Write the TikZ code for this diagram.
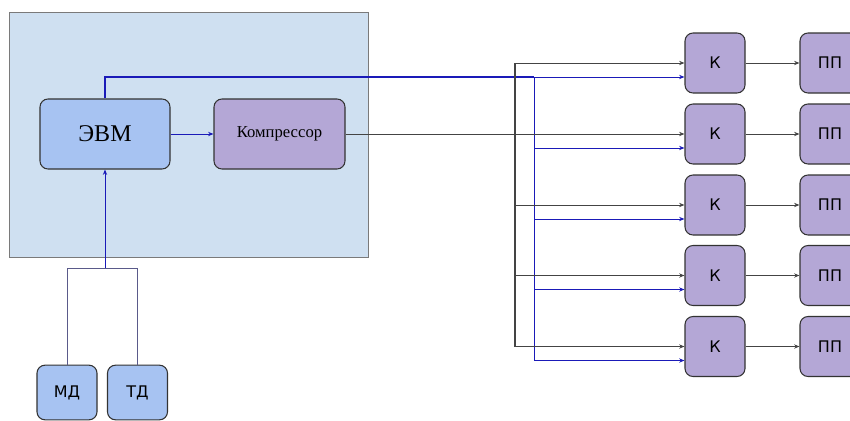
\documentclass[tikz,border=0pt]{standalone}
\usepackage{fontspec}
\setmainfont{Liberation Serif}
\setsansfont{DejaVu Sans}
\usetikzlibrary{calc,arrows.meta}
\definecolor{bgblue}{HTML}{CFE0F1}
\definecolor{evmblue}{HTML}{A7C3F2}
\definecolor{lilac}{HTML}{B4A7D6}
\definecolor{lineblue}{HTML}{1A1AB8}
\definecolor{linegray}{HTML}{444444}
\definecolor{sensline}{HTML}{5A5A8A}
\definecolor{frameline}{HTML}{7A7A7A}
\begin{document}
\begin{tikzpicture}[x=0.75pt,y=-0.75pt,
  box/.style={rounded corners=6pt, draw=black!80, line width=0.8pt, inner sep=0pt},
  evmbox/.style={box, fill=evmblue, minimum width=97.5pt, minimum height=52.5pt, font=\fontsize{18}{20}\selectfont},
  compbox/.style={box, fill=lilac, minimum width=98.25pt, minimum height=52.5pt, font=\fontsize{12.5}{14}\selectfont},
  kbox/.style={box, fill=lilac, minimum width=45pt, minimum height=45pt, font=\sffamily\fontsize{12}{14}\selectfont},
  sensbox/.style={box, fill=evmblue, minimum width=45pt, minimum height=41pt, font=\sffamily\fontsize{12}{14}\selectfont},
  tip/.style={-{Stealth[length=4pt,width=3.2pt]}},
  bluearr/.style={tip, draw=lineblue, fill=lineblue, line width=0.6pt},
  grayarr/.style={tip, draw=linegray, fill=linegray, line width=0.6pt},
  grayline/.style={draw=linegray, line width=0.8pt},
  blueline/.style={draw=lineblue, line width=0.6pt},
  bluethick/.style={draw=lineblue, line width=1.7pt},
  sline/.style={draw=sensline, line width=0.7pt}
]
\useasboundingbox (0,0) rectangle (850,421);
% container
\draw[draw=frameline, fill=bgblue, line width=0.6pt] (9,12) rectangle (368,257);

% nodes
\node[evmbox] (evm) at (105,134) {ЭВМ};
\node[compbox] (comp) at (279.5,134) {Компрессор};
\foreach \i/\y in {1/63,2/134,3/205,4/275.5,5/346.5}{
  \node[kbox] (k\i) at (715,\y) {К};
  \node[kbox] (p\i) at (830,\y) {ПП};
  \coordinate (kb\i) at ($(k\i.west)+(0,14)$);
}
\node[sensbox] (md) at (67,392.5) {МД};
\node[sensbox] (td) at (137.5,392.5) {ТД};

\coordinate (gbus) at (515,0);
\coordinate (bbus) at (534,0);
\coordinate (join) at (105,268);

% EVM -> compressor
\draw[bluearr] (evm.east) -- (comp.west);

% blue control line
\draw[bluethick] (evm.north) -- (evm.north |- kb1) -- (bbus |- kb1);
\draw[blueline] (bbus |- kb1) -- (bbus |- kb5);
\foreach \i in {1,...,5}{
  \draw[bluearr] (bbus |- kb\i) -- (kb\i);
}

% gray bus
\draw[grayline] (gbus |- k1) -- (gbus |- k5);
\foreach \i in {1,3,4,5}{
  \draw[grayarr] (gbus |- k\i) -- (k\i.west);
}
\draw[grayarr] (comp.east) -- (k2.west);

% K -> PP
\foreach \i in {1,...,5}{
  \draw[grayarr] (k\i.east) -- (p\i.west);
}

% sensors
\draw[sline] (md.north) -- (md.north |- join) -- (td.north |- join) -- (td.north);
\draw[bluearr] (join) -- (evm.south);
\end{tikzpicture}
\end{document}
